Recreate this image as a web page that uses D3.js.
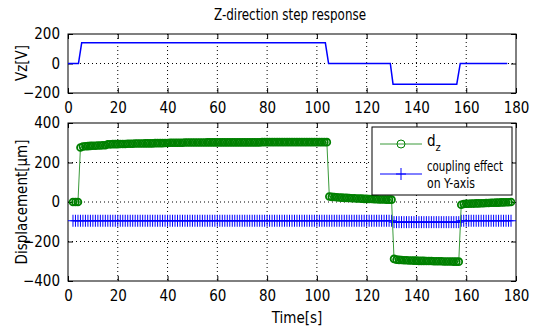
<!DOCTYPE html>
<html>
<head>
<meta charset="utf-8">
<script src="https://cdn.jsdelivr.net/npm/d3@7"></script>
<style>
  body { margin: 0; background: #fff; }
  text { font-family: "DejaVu Sans Condensed", "Liberation Sans Narrow", Arial, sans-serif; fill: #000; }
</style>
</head>
<body>
<div id="chart"></div>
<script>
// Z-direction step input (V), step corners
var vzTime = [0, 4.2, 5.5, 103.4, 104.7, 129.5, 130.6, 156.2, 157.6, 176.5];
var vzValue = [0, 0, 140, 140, 0, 0, -140, -140, 0, 0];

// sampled response, one sample per second from t = 2 to t = 178
var sampleTime = [
  2,3,4,5,6,7,8,9,10,11,12,13,14,15,16,17,18,19,20,21,22,23,24,25,26,27,28,29,30,
  31,32,33,34,35,36,37,38,39,40,41,42,43,44,45,46,47,48,49,50,51,52,53,54,55,56,57,58,59,60,
  61,62,63,64,65,66,67,68,69,70,71,72,73,74,75,76,77,78,79,80,81,82,83,84,85,86,87,88,89,90,
  91,92,93,94,95,96,97,98,99,100,101,102,103,104,105,106,107,108,109,110,111,112,113,114,115,
  116,117,118,119,120,121,122,123,124,125,126,127,128,129,130,131,132,133,134,135,136,137,138,
  139,140,141,142,143,144,145,146,147,148,149,150,151,152,153,154,155,156,157,158,159,160,161,
  162,163,164,165,166,167,168,169,170,171,172,173,174,175,176,177,178
];
var dz = [
  0,0,0,276,
  281,282,283,284,285,285,286,286,287,287,
  292,292,293,293,293,294,294,294,295,295,295,296,296,296,296,297,297,297,297,298,298,298,298,299,299,
  300,300,300,300,300,300,301,301,301,301,301,301,301,301,301,302,302,302,302,302,302,302,302,302,302,302,
  302,302,302,302,302,302,302,302,302,302,302,303,303,303,303,303,303,303,303,303,303,303,303,303,303,303,
  303,303,303,303,303,303,303,303,303,303,303,303,
  28,
  26,25,24,23,22,21,21,20,19,19,18,18,17,16,16,15,15,14,14,13,13,13,12,12,12,
  -288,
  -292,-293,-294,-295,-295,-296,-296,-297,-297,-298,-298,-298,-299,-299,-299,-300,-300,-300,-300,-301,-301,-301,-301,-302,-302,-302,
  -14,
  -10,-9,-9,-8,-8,-7,-7,-6,-6,-5,-5,-4,-4,-3,-3,-2,-2,-1,-1,0
];
var coupling = [
  -95,-95,-95,-95,-95,-95,-95,-95,-95,-95,-95,-95,-95,-95,-95,-95,-95,-95,-95,-95,-95,-95,-95,-95,-95,
  -95,-95,-95,-95,-95,-95,-95,-95,-95,-95,-95,-95,-95,-95,-95,-95,-95,-95,-95,-95,-95,-95,-95,-95,-95,
  -95,-95,-95,-95,-95,-95,-95,-95,-95,-95,-95,-95,-95,-95,-95,-95,-95,-95,-95,-95,-95,-95,-95,-95,-95,
  -95,-95,-95,-95,-95,-95,-95,-95,-95,-95,-95,-95,-95,-95,-95,-95,-95,-95,-95,-95,-95,-95,-95,-95,-95,
  -95,-95,-95,-95,-95,-95,-95,-95,-95,-95,-95,-95,-95,-95,-95,-95,-95,-95,-95,-95,-95,-95,-95,-95,-95,
  -95,-95,-95,-95,
  -102,-102,-102,-102,-102,-102,-102,-102,-102,-102,-102,-102,-102,-102,-102,-102,-102,-102,-102,-102,
  -102,-102,-102,-102,-102,-102,-102,
  -95,-95,-95,-95,-95,-95,-95,-95,-95,-95,-95,-95,-95,-95,-95,-95,-95,-95,-95,-95,-95
];

var xTicks = [0, 20, 40, 60, 80, 100, 120, 140, 160, 180];
var vzTicks = [-200, 0, 200];
var dispTicks = [-400, -200, 0, 200, 400];

var svgWidth = 535;
var svgHeight = 327;

var svg = d3.select("#chart")
  .append("svg")
  .attr("width", svgWidth)
  .attr("height", svgHeight);

var x = d3.scaleLinear().domain([0, 180]).range([68, 516]);
var yTop = d3.scaleLinear().domain([-200, 200]).range([93, 34]);
var yBot = d3.scaleLinear().domain([-400, 400]).range([281, 123]);

// draws frame, dotted grid, inward ticks and labels of one axes
function drawAxes(yScale, yTicks) {
  var g = svg.append("g");
  var top = yScale.range()[1], bottom = yScale.range()[0];
  var left = x.range()[0], right = x.range()[1];

  // grid
  g.selectAll(".vgrid").data(xTicks.slice(1, -1)).enter().append("line")
    .attr("x1", d => x(d)).attr("x2", d => x(d))
    .attr("y1", top).attr("y2", bottom)
    .attr("stroke", "#000").attr("stroke-width", 1)
    .attr("stroke-dasharray", "1,3");
  g.selectAll(".hgrid").data(yTicks.slice(1, -1)).enter().append("line")
    .attr("y1", d => yScale(d)).attr("y2", d => yScale(d))
    .attr("x1", left).attr("x2", right)
    .attr("stroke", "#000").attr("stroke-width", 1)
    .attr("stroke-dasharray", "1,3");

  // axes with inward ticks
  g.append("g").attr("transform", `translate(0,${bottom})`)
    .call(d3.axisBottom(x).tickValues(xTicks).tickSizeInner(-5).tickSizeOuter(0).tickPadding(9));
  g.append("g").attr("transform", `translate(0,${top})`)
    .call(d3.axisTop(x).tickValues(xTicks).tickSizeInner(-5).tickSizeOuter(0).tickFormat(""));
  g.append("g").attr("transform", `translate(${left},0)`)
    .call(d3.axisLeft(yScale).tickValues(yTicks).tickSizeInner(-5).tickSizeOuter(0).tickPadding(8));
  g.append("g").attr("transform", `translate(${right},0)`)
    .call(d3.axisRight(yScale).tickValues(yTicks).tickSizeInner(-5).tickSizeOuter(0).tickFormat(""));

  g.selectAll(".domain").remove();
  g.selectAll(".tick line").attr("stroke", "#000");
  g.selectAll(".tick text").style("font-size", "15px").style("font-family", null);

  g.append("rect")
    .attr("x", left).attr("y", top)
    .attr("width", right - left).attr("height", bottom - top)
    .attr("fill", "none").attr("stroke", "#000").attr("stroke-width", 1);
  return g;
}

svg.append("rect").attr("width", svgWidth).attr("height", svgHeight).attr("fill", "#fff");

var topAxes = drawAxes(yTop, vzTicks);
var botAxes = drawAxes(yBot, dispTicks);

// Vz step
svg.append("path")
  .datum(vzTime.map((t, i) => [t, vzValue[i]]))
  .attr("fill", "none")
  .attr("stroke", "#0000ff")
  .attr("stroke-width", 1.5)
  .attr("d", d3.line().x(d => x(d[0])).y(d => yTop(d[1])));

var dzData = sampleTime.map((t, i) => [t, dz[i]]);
var cpData = sampleTime.map((t, i) => [t, coupling[i]]);
var line = d3.line().x(d => x(d[0])).y(d => yBot(d[1]));

// coupling effect: blue line with + markers
svg.append("path").datum(cpData)
  .attr("fill", "none").attr("stroke", "#0000ff").attr("stroke-width", 1.2)
  .attr("d", line);
svg.append("g").selectAll("path").data(cpData).enter().append("path")
  .attr("d", d => `M${x(d[0]) - 5},${yBot(d[1])}H${x(d[0]) + 5}M${x(d[0])},${yBot(d[1]) - 6}V${yBot(d[1]) + 6}`)
  .attr("stroke", "#0000ff").attr("stroke-width", 1).attr("fill", "none");

// dz: green line with circle markers
svg.append("path").datum(dzData)
  .attr("fill", "none").attr("stroke", "#3a9a3a").attr("stroke-width", 1)
  .attr("d", line);
svg.append("g").selectAll("circle").data(dzData).enter().append("circle")
  .attr("cx", d => x(d[0])).attr("cy", d => yBot(d[1]))
  .attr("r", 3.4)
  .attr("fill", "none").attr("stroke", "#008000").attr("stroke-width", 1.8);

// title and labels
svg.append("text").attr("x", 290).attr("y", 20)
  .attr("text-anchor", "middle").style("font-size", "15px")
  .attr("textLength", 152).attr("lengthAdjust", "spacingAndGlyphs")
  .text("Z-direction step response");
svg.append("text").attr("transform", "translate(27,63) rotate(-90)")
  .attr("text-anchor", "middle").style("font-size", "15px")
  .text("Vz[V]");
svg.append("text").attr("transform", "translate(27,202) rotate(-90)")
  .attr("text-anchor", "middle").style("font-size", "15px")
  .text("Displacement[\u03bcm]");
svg.append("text").attr("x", 297).attr("y", 323)
  .attr("text-anchor", "middle").style("font-size", "15px")
  .text("Time[s]");

// legend
var legend = svg.append("g");
legend.append("rect")
  .attr("x", 372).attr("y", 127).attr("width", 140).attr("height", 68)
  .attr("fill", "#fff").attr("stroke", "#000").attr("stroke-width", 1);
legend.append("line").attr("x1", 380).attr("x2", 422).attr("y1", 144).attr("y2", 144)
  .attr("stroke", "#3a9a3a").attr("stroke-width", 1);
legend.append("circle").attr("cx", 401).attr("cy", 144).attr("r", 4)
  .attr("fill", "none").attr("stroke", "#008000");
var dzLabel = legend.append("text").attr("x", 427).attr("y", 146).style("font-size", "15px");
dzLabel.append("tspan").text("d");
dzLabel.append("tspan").attr("dy", 5).style("font-size", "11px").text("z");
legend.append("line").attr("x1", 380).attr("x2", 422).attr("y1", 174).attr("y2", 174)
  .attr("stroke", "#0000ff").attr("stroke-width", 1);
legend.append("path").attr("d", "M396,174H406M401,168V180")
  .attr("stroke", "#0000ff").attr("fill", "none");
legend.append("text").attr("x", 427).attr("y", 171).style("font-size", "14px")
  .attr("textLength", 76).attr("lengthAdjust", "spacingAndGlyphs")
  .text("coupling effect");
legend.append("text").attr("x", 427).attr("y", 188).style("font-size", "14px")
  .attr("textLength", 48).attr("lengthAdjust", "spacingAndGlyphs")
  .text("on Y-axis");
</script>
</body>
</html>
